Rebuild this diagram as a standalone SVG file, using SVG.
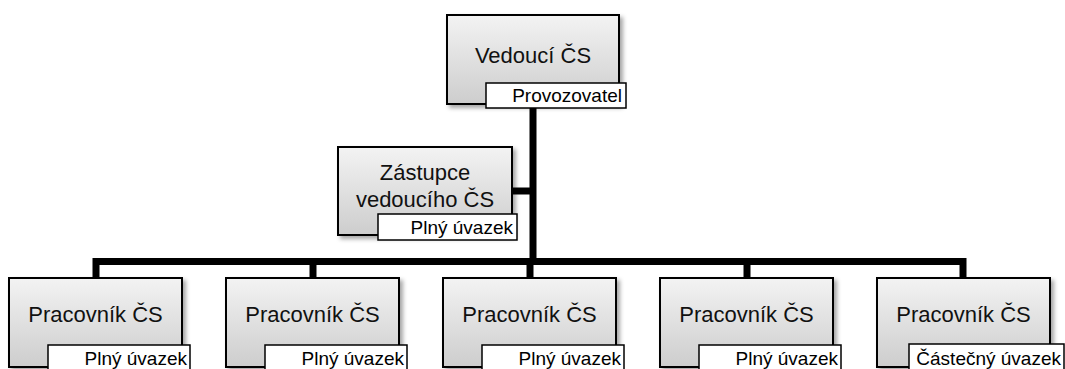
<svg xmlns="http://www.w3.org/2000/svg" width="1065" height="369" viewBox="0 0 1065 369">
<defs>
<linearGradient id="g" x1="0" y1="0" x2="0" y2="1">
<stop offset="0" stop-color="#f3f3f3"/>
<stop offset="1" stop-color="#cdcdcd"/>
</linearGradient>
<filter id="sh" x="-10%" y="-10%" width="130%" height="130%">
<feDropShadow dx="3" dy="3" stdDeviation="2" flood-color="#000" flood-opacity="0.35"/>
</filter>
<style>
.box{fill:url(#g);stroke:#000;stroke-width:2;filter:url(#sh)}
.lab{fill:#fff;stroke:#000;stroke-width:1.5}
.t{font-family:"Liberation Sans",Arial,sans-serif;font-size:22px;fill:#111;text-anchor:middle}
.s{font-family:"Liberation Sans",Arial,sans-serif;font-size:19px;fill:#000;text-anchor:end}
.c{fill:none;stroke:#000;stroke-width:7;stroke-linejoin:miter;stroke-linecap:butt}
</style>
</defs>
<g id="connectors">
<path class="c" d="M533 108 V262"/>
<path class="c" d="M512 191 H536"/>
<path class="c" d="M96 278 V261.5 H963 V278"/>
<path class="c" d="M313 261 V278"/>
<path class="c" d="M530 261 V278"/>
<path class="c" d="M747 261 V278"/>
</g>
<g id="n-vedouci">
<rect class="box" x="447" y="15" width="172" height="89"/>
<text class="t" x="533" y="63">Vedoucí ČS</text>
<rect class="lab" x="486" y="83" width="140" height="25"/>
<text class="s" x="622" y="102">Provozovatel</text>
</g>
<g id="n-zastupce">
<rect class="box" x="338" y="147" width="174" height="88"/>
<text class="t" x="425" y="180">Zástupce</text>
<text class="t" x="425" y="207">vedoucího ČS</text>
<rect class="lab" x="378" y="214" width="139" height="26"/>
<text class="s" x="513" y="234">Plný úvazek</text>
</g>
<g id="n-p1">
<rect class="box" x="9" y="278" width="173" height="89"/>
<text class="t" x="95.5" y="322">Pracovník ČS</text>
<rect class="lab" x="48" y="345" width="142" height="27"/>
<text class="s" x="187" y="365">Plný úvazek</text>
</g>
<g id="n-p2">
<rect class="box" x="226" y="278" width="173" height="89"/>
<text class="t" x="312.5" y="322">Pracovník ČS</text>
<rect class="lab" x="265" y="345" width="142" height="27"/>
<text class="s" x="404" y="365">Plný úvazek</text>
</g>
<g id="n-p3">
<rect class="box" x="443" y="278" width="173" height="89"/>
<text class="t" x="529.5" y="322">Pracovník ČS</text>
<rect class="lab" x="482" y="345" width="142" height="27"/>
<text class="s" x="621" y="365">Plný úvazek</text>
</g>
<g id="n-p4">
<rect class="box" x="660" y="278" width="173" height="89"/>
<text class="t" x="746.5" y="322">Pracovník ČS</text>
<rect class="lab" x="699" y="345" width="142" height="27"/>
<text class="s" x="838" y="365">Plný úvazek</text>
</g>
<g id="n-p5">
<rect class="box" x="877" y="278" width="173" height="89"/>
<text class="t" x="963.5" y="322">Pracovník ČS</text>
<rect class="lab" x="909" y="344" width="155" height="28"/>
<text class="s" x="1061" y="365">Částečný úvazek</text>
</g>
</svg>
